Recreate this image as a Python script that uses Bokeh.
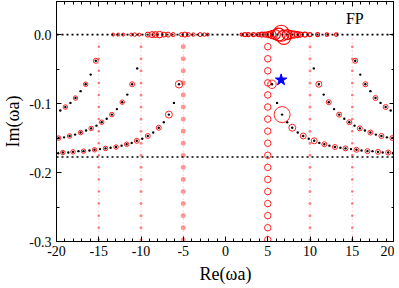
from bokeh.plotting import figure
from bokeh.models import (FixedTicker, LinearAxis, Label, Span,
                          CustomLabelingPolicy)
from bokeh.embed import file_html
from bokeh.resources import INLINE

# ---------------- ticks ----------------
x_ticks = [-20, -15, -10, -5, 0, 5, 10, 15, 20]
x_tick_labels = ["-20", "-15", "-10", "-5", "0", "5", "10", "15", "20"]
x_minor_ticks = list(range(-20, 21))
y_ticks = [-0.3, -0.2, -0.1, 0.0]
y_tick_labels = ["-0.3", "-0.2", "-0.1", "0.0"]
y_minor_ticks = [-0.3, -0.25, -0.2, -0.15, -0.1, -0.05, 0.0, 0.05]

# ---------------- data ----------------
# black dotted horizontal lines
hline_y = [0.0, -0.1775]

# red vertical columns (Re = +-5, +-10, +-15)
col_x = [-15, -10, -5, 5, 10, 15]
col_levels = [-0.0175, -0.035, -0.0525, -0.07, -0.0875, -0.105, -0.1225,
              -0.14, -0.1575, -0.175, -0.1925, -0.21, -0.2275, -0.245,
              -0.2625, -0.28, -0.2975]

# branch A (outer), right half; left half is its mirror
A_x = [15.35, 15.95, 16.55, 17.15, 17.75, 18.35, 18.95, 19.55]
A_y = [-0.038, -0.058, -0.072, -0.082, -0.092, -0.099, -0.105, -0.110]
# branch B (middle)
B_x = [10.45, 11.05, 11.62, 12.22, 12.85, 13.45, 14.06, 14.65, 15.27, 15.9,
       16.5, 17.15, 17.8, 18.45, 19.1, 19.75]
B_y = [-0.049, -0.072, -0.087, -0.098, -0.108, -0.116, -0.122, -0.127, -0.132,
       -0.136, -0.139, -0.142, -0.145, -0.147, -0.149, -0.150]
# branch C (inner)
C_x = [5.5, 6.1, 6.7, 7.3, 7.9, 8.55, 9.2, 9.85, 10.5, 11.1, 11.7, 12.3, 12.95,
       13.6, 14.2, 14.85, 15.5, 16.1, 16.8, 17.4, 18.05, 18.6, 19.25, 19.8]
C_y = [-0.072, -0.099, -0.116, -0.127, -0.135, -0.142, -0.147, -0.151, -0.154,
       -0.157, -0.159, -0.161, -0.163, -0.164, -0.165, -0.166, -0.167, -0.168,
       -0.169, -0.169, -0.170, -0.171, -0.171, -0.172]

# red circle sizes on branches (every second point)
A_red_right = [5, 5, 5, 5]
A_red_left = [5, 4.5, 4.5, 4.5]
B_red_right = [6, 5, 5, 5, 5, 5, 5, 5]
B_red_left = [5, 4.5, 4.5, 4.5, 4.5, 4.5, 4.5, 4.5]
C_red_right = [8.5, 16, 7, 6, 6, 5, 5, 5, 5, 5, 5, 5]
C_red_left = [7.5, 7, 5, 5, 5, 4.5, 4.5, 4.5, 4.5, 4.5, 4.5, 4.5]

# red circles on the real axis
zero_left_x = [-13.3, -12.7, -12.1, -11.15, -10.75, -10.2, -9.2, -8.7, -8.3,
               -7.8, -7.3, -6.8, -6.2, -5.2, -4.8, -4.4, -3.8, -3.0, -2.5, -2.1]
zero_left_y = [0.0] * 20
zero_left_s = [3, 3, 3, 3, 3.5, 3, 5, 6, 6, 6.5, 5, 5, 4, 4, 5, 4, 3.5, 4, 3.5, 3]
zero_right_x = [1.9, 2.3, 2.7, 3.3, 3.9, 4.3, 4.7, 5.1, 5.5, 5.9, 6.3, 6.6, 6.9,
                7.3, 7.7, 8.1, 8.5, 8.9, 9.4, 10.0, 10.9, 12.0, 13.1]
zero_right_y = [0.0, 0.0, 0.0, 0.0, 0.0, 0.0, 0.0, 0.0, 0.0, 0.0, 0.0, 0.002,
                -0.004, 0.0, 0.0, 0.0, 0.0, 0.0, 0.0, 0.0, 0.0, 0.0, 0.0]
zero_right_s = [3, 4, 4, 4, 4, 5, 5, 6, 8, 10, 13, 16, 14, 10, 8, 7, 6, 5, 5, 4,
                4, 3.5, 3.5]

# blue star
star_x = [6.58]
star_y = [-0.0657]

# ---------------- figure ----------------
p = figure(width=394, height=286, x_range=(-20, 20), y_range=(-0.3, 0.048),
           output_backend="svg", toolbar_location=None,
           min_border_left=48, min_border_right=0, min_border_top=1,
           min_border_bottom=37)
p.grid.visible = False
p.outline_line_color = "black"
p.background_fill_color = "white"
p.border_fill_color = "white"

SERIF = "Liberation Serif"
xt = FixedTicker(ticks=x_ticks, minor_ticks=x_minor_ticks)
yt = FixedTicker(ticks=y_ticks, minor_ticks=y_minor_ticks)
hide_all = CustomLabelingPolicy(code="""
for (const i of indices) { indices.unset(i) }
return indices
""")


def style_axis(ax, labels, show):
    ax.major_tick_in = 5
    ax.major_tick_out = 0
    ax.minor_tick_in = 3
    ax.minor_tick_out = 0
    ax.axis_line_color = "black"
    ax.major_tick_line_color = "black"
    ax.minor_tick_line_color = "black"
    ax.major_label_text_font = SERIF
    ax.major_label_text_color = "black"
    if show:
        ax.major_label_text_font_size = "14px"
        ax.major_label_overrides = labels
    else:
        ax.major_label_text_font_size = "0px"
        ax.major_label_standoff = 0
        ax.major_label_policy = hide_all


p.xaxis.ticker = xt
p.yaxis.ticker = yt
style_axis(p.xaxis[0], {v: s for v, s in zip(x_ticks, x_tick_labels)}, True)
style_axis(p.yaxis[0], {v: s for v, s in zip(y_ticks, y_tick_labels)}, True)
p.xaxis.major_label_standoff = 4
p.yaxis.major_label_standoff = 5
p.xaxis.axis_label = "Re(ωa)"
p.yaxis.axis_label = "Im(ωa)"
for ax in (p.xaxis[0], p.yaxis[0]):
    ax.axis_label_text_font = SERIF
    ax.axis_label_text_font_size = "18px"
    ax.axis_label_text_font_style = "normal"
    ax.axis_label_text_color = "black"
p.xaxis.axis_label_standoff = 5
p.yaxis.axis_label_standoff = 3

top = LinearAxis(ticker=xt)
style_axis(top, {}, False)
p.add_layout(top, "above")
right = LinearAxis(ticker=yt)
style_axis(right, {}, False)
p.add_layout(right, "right")

# columns: faint dotted line + markers
p.segment(x0=col_x, y0=[0.0] * len(col_x), x1=col_x, y1=[-0.3] * len(col_x),
          line_color="#ff7070", line_alpha=0.6, line_width=1, line_dash="1 3")
col_style = {
    -15: dict(size=2.5, fill_color="#ff4040", fill_alpha=0.7, line_color=None),
    -10: dict(size=3, fill_color="#ff4040", fill_alpha=0.6, line_color=None),
    -5: dict(size=4.2, fill_color="#ff3030", fill_alpha=0.45, line_color="#ff5050", line_alpha=0.45),
    5: dict(size=6.5, fill_color=None, line_color="#ff2020", line_width=1),
    10: dict(size=3, fill_color="#ff4040", fill_alpha=0.6, line_color=None),
    15: dict(size=2.5, fill_color="#ff4040", fill_alpha=0.7, line_color=None),
}
for cx in col_x:
    p.scatter(x=[cx] * len(col_levels), y=col_levels, marker="circle",
              **col_style[cx])

# black dotted horizontal lines
for hy in hline_y:
    p.add_layout(Span(location=hy, dimension="width", line_color="black",
                      line_width=1.6, line_dash="2 3"))

# black branch points, right and mirrored left
for bx, by in ((A_x, A_y), (B_x, B_y), (C_x, C_y)):
    p.scatter(x=bx, y=by, size=2.4, marker="circle", fill_color="black",
              line_color=None)
    p.scatter(x=[-v for v in bx], y=by, size=2.4, marker="circle",
              fill_color="black", line_color=None)

# red circles on branches
for bx, by, start, sr, sl in ((A_x, A_y, 0, A_red_right, A_red_left),
                              (B_x, B_y, 1, B_red_right, B_red_left),
                              (C_x, C_y, 0, C_red_right, C_red_left)):
    rx = bx[start::2]
    ry = by[start::2]
    p.scatter(x=rx[:len(sr)], y=ry[:len(sr)], size=sr, marker="circle",
              fill_color=None, line_color="red", line_alpha=0.85,
              line_width=1)
    p.scatter(x=[-v for v in rx[:len(sl)]], y=ry[:len(sl)], size=sl,
              marker="circle", fill_color=None, line_color="red",
              line_alpha=0.85, line_width=1)

# red circles on the real axis
p.scatter(x=zero_left_x, y=zero_left_y, size=zero_left_s, marker="circle",
          fill_color=None, line_color="red", line_width=1)
p.scatter(x=zero_right_x, y=zero_right_y, size=zero_right_s, marker="circle",
          fill_color=None, line_color="red", line_width=1.1)

# blue star
p.scatter(x=star_x, y=star_y, marker="star", size=12, fill_color="blue",
          line_color="blue")

p.add_layout(Label(x=15.3, y=0.023, text="FP", text_font=SERIF,
                   text_font_size="16px", text_align="center",
                   text_baseline="middle", text_color="black"))

open("out.html", "w").write(file_html(p, INLINE))
